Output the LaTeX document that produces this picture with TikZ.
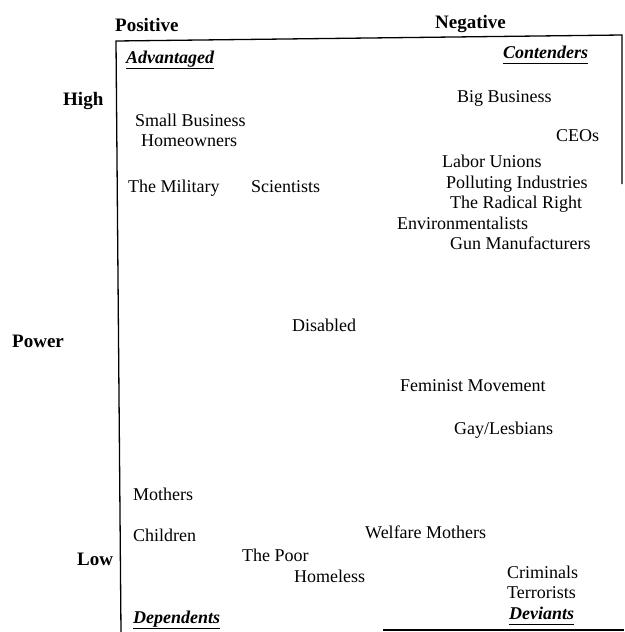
\documentclass[tikz,border=0pt]{standalone}
\usepackage{fontspec}
\setmainfont{Liberation Serif}
\begin{document}
\begin{tikzpicture}[x=1pt,y=-1pt,
  lbl/.style={anchor=base west, inner sep=0pt, font=\fontsize{18}{21}\selectfont},
  axislbl/.style={lbl, font=\fontsize{19}{22}\selectfont\bfseries},
  catlbl/.style={lbl, font=\fontsize{18}{21}\selectfont\bfseries\itshape},
  frameline/.style={line width=1.3pt},
  uline/.style={line width=0.9pt}]
\useasboundingbox (0,0) rectangle (624,632);
% frame
\coordinate (fbl) at (121,632);
\coordinate (ftl) at (116,41);
\coordinate (ftr) at (622,35);
\coordinate (fre) at (622,184);
\coordinate (fbs) at (383,630);
\coordinate (fbe) at (624,630);
\draw[frameline] (fbl) -- (ftl) -- (ftr) -- (fre);
\draw[frameline] (fbs) -- (fbe);
% axis labels
\node[axislbl] (pos) at (115,31) {Positive};
\node[axislbl] (neg) at (435,28) {Negative};
\node[axislbl] (high) at (63,105) {High};
\node[axislbl] (power) at (12,347) {Power};
\node[axislbl] (low) at (77,565) {Low};
% categories
\node[catlbl] (adv) at (126,63) {Advantaged};
\node[catlbl] (con) at (503,58) {Contenders};
\node[catlbl] (dep) at (133,623) {Dependents};
\node[catlbl] (dev) at (509,619) {Deviants};
\foreach \n in {adv,con,dep,dev}
  \draw[uline] ([yshift=-5pt]\n.base west) -- ([yshift=-5pt]\n.base east);
% groups
\node[lbl] (sb) at (135,126) {Small Business};
\node[lbl] (ho) at (141,146) {Homeowners};
\node[lbl] (mil) at (128,192) {The Military};
\node[lbl] (sci) at (251,192) {Scientists};
\node[lbl] (bb) at (457,102) {Big Business};
\node[lbl] (ceo) at (556,141) {CEOs};
\node[lbl] (lab) at (442,167) {Labor Unions};
\node[lbl] (pol) at (446,188) {Polluting Industries};
\node[lbl] (rad) at (450,208) {The Radical Right};
\node[lbl] (env) at (397,229) {Environmentalists};
\node[lbl] (gun) at (450,249) {Gun Manufacturers};
\node[lbl] (dis) at (292,331) {Disabled};
\node[lbl] (fem) at (400,391) {Feminist Movement};
\node[lbl] (gay) at (454,434) {Gay/Lesbians};
\node[lbl] (mot) at (133,500) {Mothers};
\node[lbl] (chi) at (133,541) {Children};
\node[lbl] (wel) at (365,538) {Welfare Mothers};
\node[lbl] (poor) at (242,561) {The Poor};
\node[lbl] (hom) at (294,582) {Homeless};
\node[lbl] (cri) at (507,578) {Criminals};
\node[lbl] (ter) at (507,598) {Terrorists};
\end{tikzpicture}
\end{document}
